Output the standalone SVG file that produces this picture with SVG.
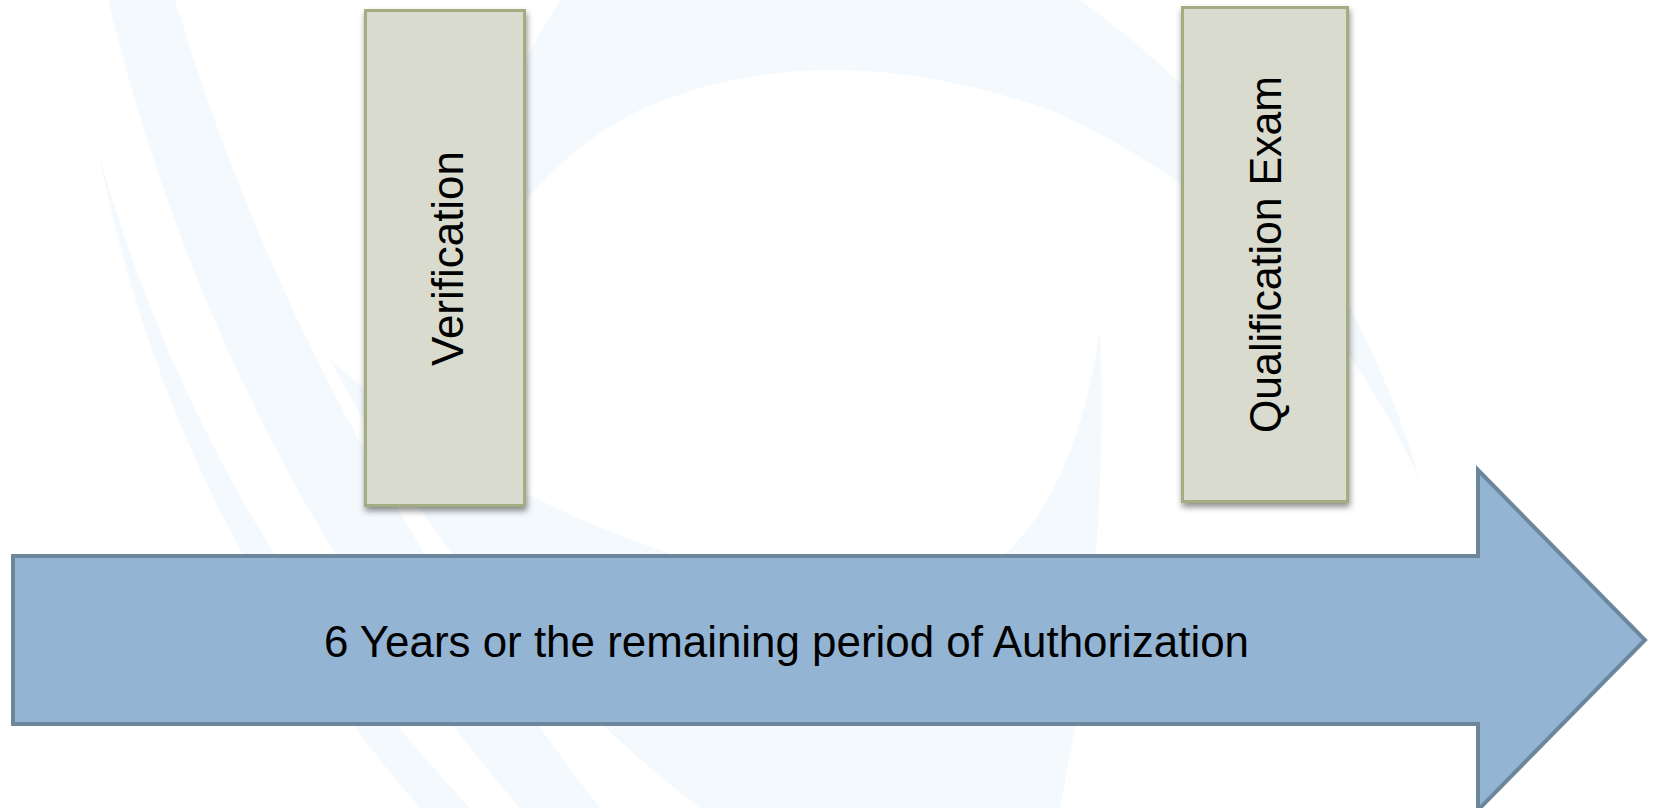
<svg xmlns="http://www.w3.org/2000/svg" width="1656" height="808" viewBox="0 0 1656 808">
  <style>
    .swoosh { fill: #f4f9fe; }
    .box { fill: #d9dbcf; stroke: #a4ad82; stroke-width: 3; }
    .arrow { fill: #93b4d2; stroke: #6c879c; stroke-width: 4; stroke-linejoin: miter; }
    .label { font-family: "Liberation Sans", Arial, sans-serif; font-size: 44px; fill: #000; }
  </style>
  <defs>
    <filter id="shadow" x="-20%" y="-10%" width="140%" height="120%">
      <feDropShadow dx="1" dy="4" stdDeviation="3" flood-color="#000" flood-opacity="0.45"/>
    </filter>
  </defs>
  <rect width="1656" height="808" fill="#ffffff"/>
  <g id="background">
    <path class="swoosh" d="M108,0 L175,0 Q300,420 600,808 L520,808 Q220,460 108,0 Z"/>
    <path class="swoosh" d="M98,150 Q200,520 470,808 L420,808 Q170,520 98,150 Z"/>
    <path class="swoosh" d="M560,0 L1080,0 Q1330,180 1420,480 Q1300,220 1050,110 Q820,30 640,110 Q520,170 470,300 Q470,140 560,0 Z"/>
    <path class="swoosh" d="M330,360 Q560,560 880,600 Q1060,600 1100,330 Q1110,560 1060,808 L700,808 Q480,640 330,360 Z"/>
  </g>
  <g id="connectors">
    <path id="timeline-arrow" class="arrow" d="M13,556 L1478,556 L1478,470 L1645,640 L1478,810 L1478,724 L13,724 Z"/>
    <text class="label" x="324" y="657" textLength="925" lengthAdjust="spacingAndGlyphs">6 Years or the remaining period of Authorization</text>
  </g>
  <g id="node-verification">
    <rect class="box" x="365.5" y="10.5" width="159" height="495" filter="url(#shadow)"/>
    <text class="label" transform="translate(463,258.5) rotate(-90)" text-anchor="middle" textLength="215" lengthAdjust="spacingAndGlyphs">Verification</text>
  </g>
  <g id="node-qualification-exam">
    <rect class="box" x="1182.5" y="7.5" width="165" height="494" filter="url(#shadow)"/>
    <text class="label" transform="translate(1281,254.5) rotate(-90)" text-anchor="middle" textLength="357" lengthAdjust="spacingAndGlyphs">Qualification Exam</text>
  </g>
</svg>
